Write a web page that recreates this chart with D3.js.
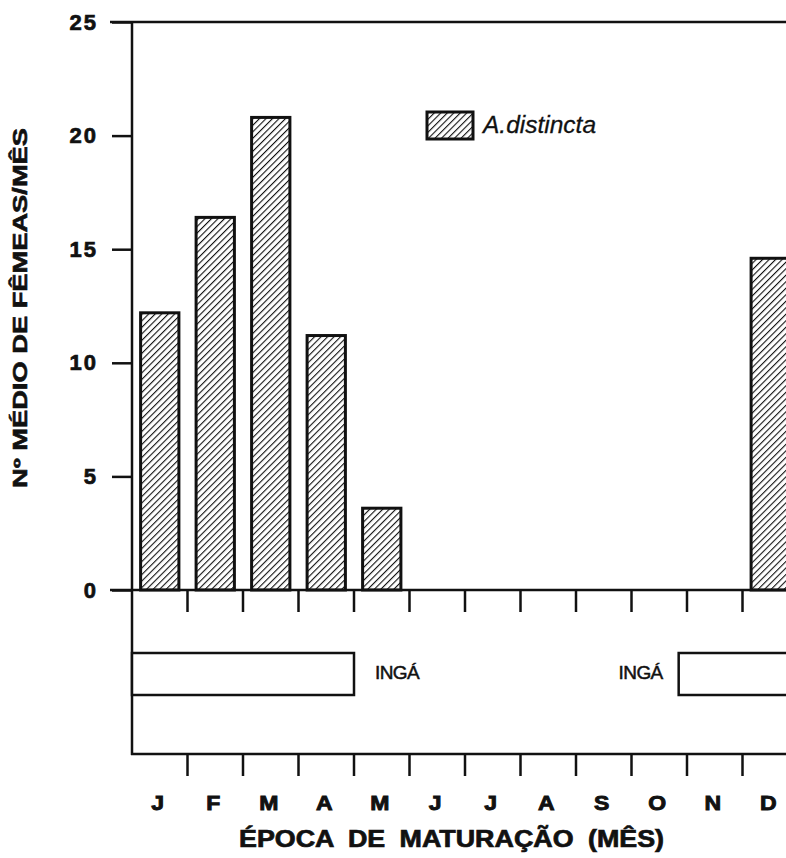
<!DOCTYPE html>
<html>
<head>
<meta charset="utf-8">
<script src="https://cdn.jsdelivr.net/npm/d3@7"></script>
<style>
  body { margin: 0; background: #fff; }
  svg { display: block; }
  text { fill: #111; }
</style>
</head>
<body>
<div id="chart"></div>
<script>
// data
var months = ["J", "F", "M", "A", "M2", "J2", "J3", "A2", "S", "O", "N", "D"];
var monthLabels = ["J", "F", "M", "A", "M", "J", "J", "A", "S", "O", "N", "D"];
var femeas = [12.2, 16.4, 20.8, 11.2, 3.6, 0, 0, 0, 0, 0, 0, 14.6];
var yTicks = [0, 5, 10, 15, 20, 25];
var ingaStart = [0, 9.85];   // month position (0 = start of Jan)
var ingaEnd = [4, 12];
var ingaLabelSide = ["right", "left"];

var W = 786, H = 858;
var mLeft = 132, mRight = 798, yTop = 22, yBase = 590, yBottom = 754;
var heavy = "'Liberation Sans', Arial, sans-serif";

var svg = d3.select("#chart").append("svg")
    .attr("width", W)
    .attr("height", H);

var defs = svg.append("defs");
var pat = defs.append("pattern")
    .attr("id", "hatch")
    .attr("patternUnits", "userSpaceOnUse")
    .attr("width", 4.6)
    .attr("height", 4.6)
    .attr("patternTransform", "rotate(45)");
pat.append("rect").attr("width", 4.6).attr("height", 4.6).attr("fill", "#fff");
pat.append("line")
    .attr("x1", 0).attr("y1", 0).attr("x2", 0).attr("y2", 4.6)
    .attr("stroke", "#111").attr("stroke-width", 2.2);

var x = d3.scaleBand().domain(months).range([mLeft, mRight]).padding(0);
var xBar = d3.scaleBand().domain(months).range([mLeft, mRight])
    .paddingInner(0.31).paddingOuter(0.155);
var xPos = d3.scaleLinear().domain([0, 12]).range([mLeft, mRight]);
var y = d3.scaleLinear().domain([0, 25]).range([yBase, yTop]);

// bars
svg.append("g").selectAll("rect")
  .data(months.filter(function(m, i) { return femeas[i] > 0; }))
  .enter().append("rect")
    .attr("x", function(d) { return xBar(d); })
    .attr("width", xBar.bandwidth())
    .attr("y", function(d) { return y(femeas[months.indexOf(d)]); })
    .attr("height", function(d) { return yBase - y(femeas[months.indexOf(d)]); })
    .attr("fill", "url(#hatch)")
    .attr("stroke", "#111")
    .attr("stroke-width", 3);

// y axis
var yAxis = svg.append("g")
    .attr("transform", "translate(" + mLeft + ",0)")
    .call(d3.axisLeft(y).tickValues(yTicks).tickSize(20).tickPadding(14));
yAxis.select(".domain").remove();
yAxis.selectAll("line").attr("stroke", "#111").attr("stroke-width", 2.5);
yAxis.selectAll("text")
    .attr("font-family", heavy)
    .attr("font-weight", "bold")
    .attr("font-size", 22)
    .attr("letter-spacing", 2)
    .attr("stroke", "#111")
    .attr("stroke-width", 0.7)
    .attr("fill", "#111");

// frame lines
var frame = svg.append("g").attr("stroke", "#111").attr("stroke-width", 2.5);
frame.append("line").attr("x1", mLeft).attr("x2", mLeft).attr("y1", yTop - 1).attr("y2", yBottom + 1);
frame.append("line").attr("x1", mLeft - 22).attr("x2", W).attr("y1", yTop).attr("y2", yTop);
frame.append("line").attr("x1", mLeft - 22).attr("x2", W).attr("y1", yBase).attr("y2", yBase);
frame.append("line").attr("x1", mLeft - 1).attr("x2", W).attr("y1", yBottom).attr("y2", yBottom);

// month ticks (band boundaries), below baseline and below bottom frame
var bounds = months.slice(1).map(function(d) { return x(d); });
[yBase, yBottom].forEach(function(y0) {
  frame.append("g").selectAll("line")
    .data(bounds)
    .enter().append("line")
      .attr("x1", function(d) { return d; })
      .attr("x2", function(d) { return d; })
      .attr("y1", y0)
      .attr("y2", y0 + 22)
      .attr("stroke-width", 2.5);
});

// month labels
svg.append("g").selectAll("text")
  .data(months)
  .enter().append("text")
    .attr("x", function(d) { return x(d) + x.bandwidth() / 2 - 2; })
    .attr("y", 810)
    .attr("text-anchor", "middle")
    .attr("font-family", heavy)
    .attr("font-weight", "bold")
    .attr("font-size", 20)
    .attr("stroke", "#111")
    .attr("stroke-width", 0.9)
    .attr("transform", function(d) {
      var cx = x(d) + x.bandwidth() / 2 - 2;
      return "translate(" + cx + ",0) scale(1.15,1) translate(" + (-cx) + ",0)";
    })
    .text(function(d, i) { return monthLabels[i]; });

// INGÁ flowering boxes
var boxTop = 653, boxH = 42;
ingaStart.forEach(function(s, i) {
  svg.append("rect")
    .attr("x", xPos(s))
    .attr("y", boxTop)
    .attr("width", xPos(ingaEnd[i]) - xPos(s))
    .attr("height", boxH)
    .attr("fill", "#fff")
    .attr("stroke", "#111")
    .attr("stroke-width", 2.5);
  var lx = ingaLabelSide[i] == "right" ? xPos(ingaEnd[i]) + 21 : xPos(s) - 16;
  svg.append("text")
    .attr("x", lx)
    .attr("y", 679)
    .attr("text-anchor", ingaLabelSide[i] == "right" ? "start" : "end")
    .attr("font-family", heavy)
    .attr("font-size", 19)
    .attr("letter-spacing", -0.6)
    .attr("stroke", "#111")
    .attr("stroke-width", 0.5)
    .text("INGÁ");
});

// legend
svg.append("rect")
    .attr("x", 427).attr("y", 112)
    .attr("width", 46).attr("height", 27)
    .attr("fill", "url(#hatch)")
    .attr("stroke", "#111")
    .attr("stroke-width", 3);
svg.append("text")
    .attr("x", 483).attr("y", 133)
    .attr("font-family", heavy)
    .attr("font-style", "italic")
    .attr("font-size", 24.5)
    .attr("stroke", "#111")
    .attr("stroke-width", 0.3)
    .text("A.distincta");

// axis titles
svg.append("text")
    .attr("x", 239).attr("y", 847)
    .attr("font-family", heavy)
    .attr("font-weight", "bold")
    .attr("font-size", 23)
    .attr("word-spacing", 6)
    .attr("stroke", "#111")
    .attr("stroke-width", 0.7)
    .attr("textLength", 425)
    .attr("lengthAdjust", "spacingAndGlyphs")
    .text("ÉPOCA DE MATURAÇÃO (MÊS)");

svg.append("text")
    .attr("transform", "translate(27,488) rotate(-90)")
    .attr("font-family", heavy)
    .attr("font-weight", "bold")
    .attr("font-size", 19.5)
    .attr("stroke", "#111")
    .attr("stroke-width", 0.6)
    .attr("textLength", 360)
    .attr("lengthAdjust", "spacingAndGlyphs")
    .text("Nº MÉDIO DE FÊMEAS/MÊS");
</script>
</body>
</html>
